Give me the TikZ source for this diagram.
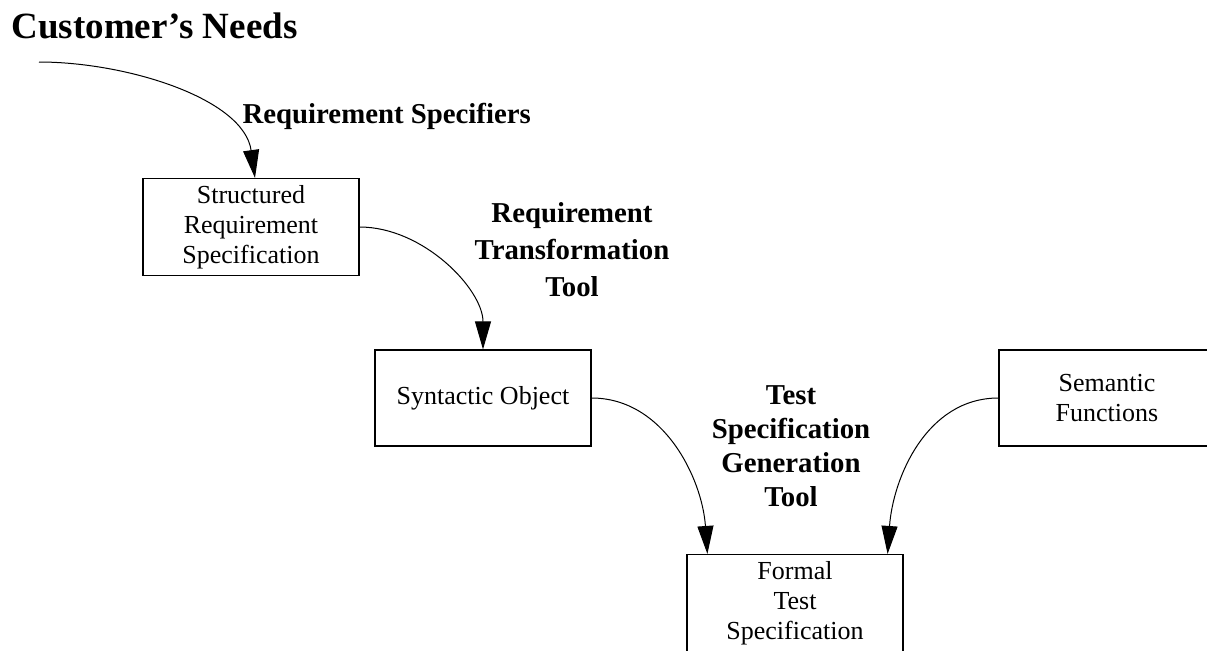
\documentclass[tikz,border=0pt]{standalone}
\usepackage{fontspec}
\setmainfont{Liberation Serif}
\usetikzlibrary{arrows.meta,positioning,calc}
\tikzset{every picture/.style={line width=0.6pt}}

\begin{document}
\begin{tikzpicture}[x=0.5pt,y=-0.5pt,
    box/.style={draw, minimum width=108pt, minimum height=48pt, align=center, font=\fontsize{13}{15}\selectfont},
    tool/.style={align=center, font=\fontsize{14.4}{18.5}\selectfont\bfseries},
    flow/.style={line width=0.5pt, -{Triangle[length=14pt,width=8pt]}}]
    % 需求 -> 形式化测试规格
    \useasboundingbox (0,0) rectangle (1207,650);
    \node[anchor=base west, inner sep=0pt, font=\fontsize{18.5}{22}\selectfont\bfseries] (needs) at (11,38) {Customer's Needs};
    \coordinate (start) at (39,62);
    \node[box] (srs) at (251,227) {Structured\\Requirement\\Specification};
    \node[box] (syn) at (483,398) {Syntactic Object};
    \node[box] (sem) at (1107,398) {Semantic\\Functions};
    \node[box] (fts) at (795,603) {Formal\\Test\\Specification};
    \node[tool, anchor=base west, inner sep=0pt] (rs) at (242,123) {Requirement Specifiers};
    \node[tool] (rtt) at (572,250) {Requirement\\Transformation\\Tool};
    \node[tool, font=\fontsize{14.4}{17}\selectfont\bfseries] (tsg) at (791,446) {Test\\Specification\\Generation\\Tool};
    \draw[flow] (start) to[out=0,in=98,out distance=44pt,in distance=40pt] ([xshift=2pt]srs.north);
    \draw[flow] (srs.east) to[out=0,in=90,out distance=32pt,in distance=30pt] (syn.north);
    \draw[flow] (syn.east) to[out=0,in=94,out distance=36pt,in distance=38pt] ([xshift=10.5pt]fts.north west);
    \draw[flow] (sem.west) to[out=180,in=86,out distance=36pt,in distance=38pt] ([xshift=-8pt]fts.north east);
\end{tikzpicture}
\end{document}
